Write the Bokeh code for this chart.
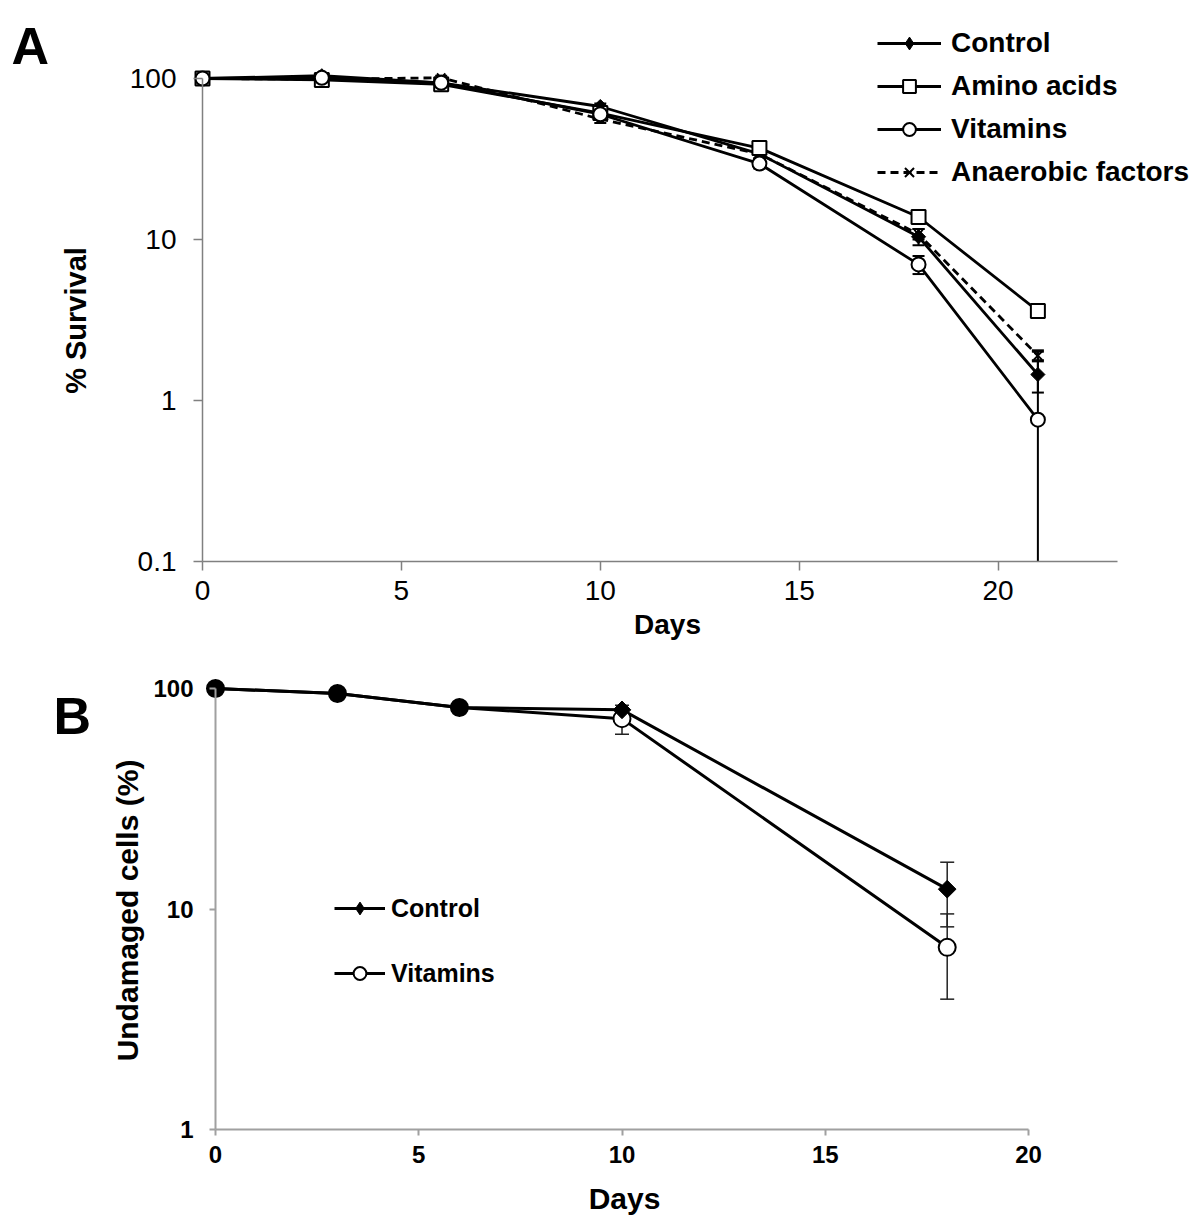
import math
from bokeh.plotting import figure
from bokeh.models import Range1d, FixedTicker, Label, Legend, LegendItem
from bokeh.layouts import column
from bokeh.embed import file_html
from bokeh.resources import INLINE

FONT = "Liberation Sans"

# ---------------- Panel A data ----------------
days_a = [0, 3, 6, 10, 14, 18, 21]
control_a = [100, 104, 94, 67, 34, 10.4, 1.45]
amino_a = [100, 98, 92, 61, 37, 13.8, 3.6]
vitamins_a = [100, 101, 94, 60, 29.6, 7.0, 0.76]
anaerobic_a = [100, 99, 101, 56, 34, 10.8, 1.9]
sd_control_a = [0, 2, 3, 3, 2, 1.2, 0.33]
sd_amino_a = [0, 2, 3, 3, 2, 0.8, 0.2]
sd_vitamins_a = [0, 2, 3, 3, 2, 0.9, 1.25]
sd_anaerobic_a = [0, 2, 3, 3, 2, 0.8, 0.15]
x_ticks_a = [0, 5, 10, 15, 20]
y_ticks_a = [0.1, 1, 10, 100]
y_tick_labels_a = ["0.1", "1", "10", "100"]

# ---------------- Panel B data ----------------
days_b = [0, 3, 6, 10, 18]
control_b = [100, 95, 82, 80, 12.3]
vitamins_b = [100, 95, 82, 73, 6.7]
sd_control_b = [0, 0, 0, 0, 4.0]
sd_vitamins_b = [0, 0, 0, 11, 2.8]
x_ticks_b = [0, 5, 10, 15, 20]
y_ticks_b = [1, 10, 100]
y_tick_labels_b = ["1", "10", "100"]

W = 1200
HA, HB = 650, 572


def error_bars(p, days, vals, sds, floor, lw, cap, color):
    xs, lo, hi, caps_x, caps_y = [], [], [], [], []
    for d, v, s in zip(days, vals, sds):
        if s > 0:
            low = v - s
            xs.append(d)
            lo.append(max(low, floor))
            hi.append(v + s)
            caps_x.append(d); caps_y.append(v + s)
            if low > floor:
                caps_x.append(d); caps_y.append(low)
    p.segment(xs, lo, xs, hi, line_color=color, line_width=lw)
    p.scatter(caps_x, caps_y, marker="dash", size=cap, line_color=color, line_width=lw)


def make_fig(h, x0_px, px_day, y100_px, px_dec):
    x_rng = Range1d(-x0_px / px_day, (W - x0_px) / px_day)
    y_rng = Range1d(10 ** (2 - (h - y100_px) / px_dec), 10 ** (2 + y100_px / px_dec))
    p = figure(width=W, height=h, x_range=x_rng, y_range=y_rng, y_axis_type="log",
               output_backend="svg", toolbar_location=None,
               min_border_left=0, min_border_right=0, min_border_top=0, min_border_bottom=0)
    p.grid.visible = False
    p.outline_line_color = None
    return p


def style_axes(p, color, lw, tick_out, font_size, font_style):
    for ax in (p.xaxis[0], p.yaxis[0]):
        ax.axis_line_color = color
        ax.axis_line_width = lw
        ax.major_tick_line_color = color
        ax.major_tick_line_width = lw
        ax.major_tick_in = 0
        ax.major_tick_out = tick_out
        ax.minor_tick_line_color = None
        ax.major_label_text_font = FONT
        ax.major_label_text_font_size = font_size
        ax.major_label_text_font_style = font_style
        ax.major_label_text_color = "black"


def label(p, x, y, text, size, angle=0.0, align="center", baseline="middle"):
    p.add_layout(Label(x=x, y=y, x_units="screen", y_units="screen", text=text,
                       angle=angle, text_align=align, text_baseline=baseline,
                       text_font=FONT, text_font_size=size, text_font_style="bold",
                       text_color="black"))


# ================= Panel A =================
pA = make_fig(HA, 202, 39.78, 78, 161)
style_axes(pA, "#808080", 1.5, 9, "28px", "normal")
pA.xaxis.ticker = FixedTicker(ticks=x_ticks_a)
pA.xaxis.bounds = (0, 23)
pA.xaxis.fixed_location = y_ticks_a[0]
pA.xaxis.major_label_standoff = 10
pA.yaxis.ticker = FixedTicker(ticks=y_ticks_a)
pA.yaxis.major_label_overrides = {t: s for t, s in zip(y_ticks_a, y_tick_labels_a)}
pA.yaxis.major_label_standoff = 17
pA.yaxis.fixed_location = 0
pA.yaxis.bounds = (y_ticks_a[0], y_ticks_a[-1])

for vals, sds in ((control_a, sd_control_a), (amino_a, sd_amino_a),
                  (vitamins_a, sd_vitamins_a), (anaerobic_a, sd_anaerobic_a)):
    error_bars(pA, days_a, vals, sds, y_ticks_a[0], 2, 12, "black")

lA_an = pA.line(days_a, anaerobic_a, line_color="black", line_width=2.8, line_dash="8 5")
lA_c = pA.line(days_a, control_a, line_color="black", line_width=2.8)
lA_am = pA.line(days_a, amino_a, line_color="black", line_width=2.8)
lA_v = pA.line(days_a, vitamins_a, line_color="black", line_width=2.8)
sA_an = pA.scatter(days_a, anaerobic_a, marker="x", size=12, line_color="black", line_width=2)
# legend-only marker (1px, hidden under the control diamond)
legA_diamond = pA.scatter(days_a[-1:], control_a[-1:], marker="diamond", size=1,
                          fill_color="black", line_color="black", line_width=1)
sA_c = pA.scatter(days_a, control_a, marker="square", angle=math.pi / 4, size=10,
                  fill_color="black", line_color="black", line_width=1)
sA_am = pA.scatter(days_a, amino_a, marker="square", size=14, fill_color="white",
                   line_color="black", line_width=2)
sA_v = pA.scatter(days_a, vitamins_a, marker="circle", size=14, fill_color="white",
                  line_color="black", line_width=2)

legA = Legend(items=[LegendItem(label="Control", renderers=[lA_c, legA_diamond]),
                     LegendItem(label="Amino acids", renderers=[lA_am, sA_am]),
                     LegendItem(label="Vitamins", renderers=[lA_v, sA_v]),
                     LegendItem(label="Anaerobic factors", renderers=[lA_an, sA_an])],
              location=(877, 462), orientation="vertical", padding=0, margin=0, spacing=11,
              glyph_width=64, glyph_height=32, label_height=32, label_standoff=10,
              label_text_font=FONT, label_text_font_size="28px", label_text_font_style="bold",
              label_text_color="black", border_line_color=None, background_fill_alpha=0)
pA.add_layout(legA)

label(pA, 11, 605, "A", "52px", align="left", baseline="alphabetic")
label(pA, 75, 330, "% Survival", "29px", angle=math.pi / 2)
label(pA, 667, 26, "Days", "28px")

# ================= Panel B =================
pB = make_fig(HB, 215, 40.65, 38, 220.5)
style_axes(pB, "#a0a0a0", 2, 6, "24px", "bold")
pB.xaxis.ticker = FixedTicker(ticks=x_ticks_b)
pB.xaxis.bounds = (x_ticks_b[0], x_ticks_b[-1])
pB.xaxis.fixed_location = y_ticks_b[0]
pB.xaxis.major_label_standoff = 10
pB.yaxis.ticker = FixedTicker(ticks=y_ticks_b)
pB.yaxis.major_label_overrides = {t: s for t, s in zip(y_ticks_b, y_tick_labels_b)}
pB.yaxis.major_label_standoff = 16
pB.yaxis.fixed_location = 0
pB.yaxis.bounds = (y_ticks_b[0], y_ticks_b[-1])

error_bars(pB, days_b, control_b, sd_control_b, y_ticks_b[0], 1.5, 14, "#222222")
error_bars(pB, days_b, vitamins_b, sd_vitamins_b, y_ticks_b[0], 1.5, 14, "#222222")

lB_v = pB.line(days_b, vitamins_b, line_color="black", line_width=3)
lB_c = pB.line(days_b, control_b, line_color="black", line_width=3)
# legend-only markers (1px, hidden under the real markers)
legB_circle = pB.scatter(days_b[-1:], vitamins_b[-1:], marker="circle", size=1,
                         fill_color="white", line_color="black", line_width=2)
legB_diamond = pB.scatter(days_b[-1:], control_b[-1:], marker="diamond", size=1,
                          fill_color="black", line_color="black", line_width=1)
fills_b = ["black" if d < 10 else "white" for d in days_b]
sB_v = pB.scatter(days_b, vitamins_b, marker="circle", size=17, fill_color=fills_b,
                  line_color="black", line_width=2)
sB_c = pB.scatter(days_b, control_b, marker="square", angle=math.pi / 4, size=12.5,
                  fill_color="black", line_color="black", line_width=1)

legB = Legend(items=[LegendItem(label="Control", renderers=[lB_c, legB_diamond]),
                     LegendItem(label="Vitamins", renderers=[lB_v, legB_circle])],
              location=(334, 233), orientation="vertical", padding=0, margin=0, spacing=33,
              glyph_width=51, glyph_height=32, label_height=32, label_standoff=6,
              label_text_font=FONT, label_text_font_size="25px", label_text_font_style="bold",
              label_text_color="black", border_line_color=None, background_fill_alpha=0)
pB.add_layout(legB)

label(pB, 53, 507, "B", "52px", align="left", baseline="alphabetic")
label(pB, 127, 312, "Undamaged cells (%)", "30px", angle=math.pi / 2)
label(pB, 624, 24, "Days", "30px")

layout = column(pA, pB, spacing=0)
open("out.html", "w").write(file_html(layout, INLINE))
